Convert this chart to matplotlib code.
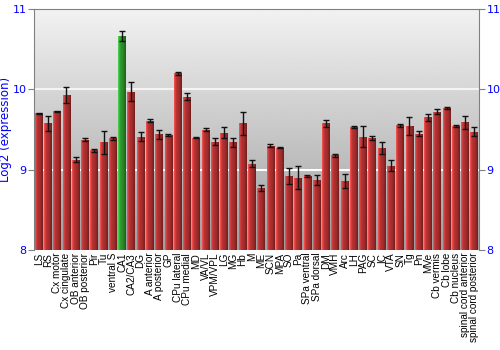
import numpy as np
import matplotlib.pyplot as plt
from matplotlib.colors import to_rgb

# Data
regions = ['LS', 'RS', 'Cx motor', 'Cx cingulate', 'OB anterior', 'OB posterior', 'Pir', 'Tu',
           'ventral S', 'CA1', 'CA2/CA3', 'DG', 'A anterior', 'A posterior', 'GP', 'CPu lateral',
           'CPu medial', 'MD', 'VA/VL', 'VPM/VPL', 'LG', 'MG', 'Hb', 'M', 'ME', 'SCN', 'MPA', 'SO',
           'Pa', 'SPa ventral', 'SPa dorsal', 'DM', 'VMH', 'Arc', 'LH', 'PAG', 'SC', 'IC', 'VTA',
           'SN', 'Tg', 'Pn', 'MVe', 'Cb vermis', 'Cb lobe', 'Cb nucleus', 'spinal cord anterior',
           'spinal cord posterior']
expr = [9.70, 9.575, 9.725, 9.925, 9.125, 9.375, 9.24, 9.34, 9.39, 10.66, 9.97, 9.41, 9.61, 9.44,
        9.43, 10.20, 9.91, 9.40, 9.50, 9.35, 9.46, 9.34, 9.575, 9.075, 8.77, 9.30, 9.275, 8.92,
        8.90, 8.92, 8.875, 9.575, 9.18, 8.86, 9.53, 9.41, 9.40, 9.27, 9.05, 9.55, 9.54, 9.45,
        9.65, 9.72, 9.77, 9.545, 9.59, 9.475]
err = [0.01, 0.09, 0.01, 0.10, 0.035, 0.02, 0.02, 0.14, 0.015, 0.06, 0.12, 0.055, 0.02, 0.06,
       0.01, 0.02, 0.04, 0.01, 0.02, 0.04, 0.07, 0.06, 0.14, 0.04, 0.04, 0.02, 0.01, 0.095,
       0.14, 0.01, 0.06, 0.04, 0.02, 0.09, 0.01, 0.13, 0.025, 0.075, 0.065, 0.015, 0.11, 0.035,
       0.045, 0.03, 0.01, 0.015, 0.08, 0.05]
highlight = 'CA1'

blue = '#0000ff'
spine_col = '#808080'

plt.rcParams['font.family'] = 'DejaVu Sans'

fig = plt.figure(figsize=(5, 3.5), dpi=100)
ax = fig.add_axes([0.068, 0.2857, 0.89, 0.6886])

x = np.arange(len(regions))
xmin, xmax = -0.5, len(regions) - 0.5
ymin, ymax = 8, 11

# background gradient
grad = np.linspace(0.62, 0.95, 256).reshape(-1, 1)
ax.imshow(grad, extent=[xmin, xmax, ymin, ymax], aspect='auto', cmap='gray',
          vmin=0, vmax=1, origin='lower', zorder=0)

for yv, a in [(9, 1.0), (10, 0.75)]:
    ax.axhline(yv, color='white', lw=1.5, alpha=a, zorder=1)


def shade(base):
    r, g, b = to_rgb(base)
    t = np.linspace(0, 1, 40)
    f = np.interp(t, [0, 0.08, 0.3, 0.7, 1], [1.25, 1.15, 1.0, 0.85, 0.6])
    arr = np.clip(np.stack([r * f + (f - 1).clip(0) * 0.4, g * f + (f - 1).clip(0) * 0.4,
                            b * f + (f - 1).clip(0) * 0.4], axis=-1), 0, 1)
    return arr.reshape(1, -1, 3)


red_img = shade('#b83232')
green_img = shade('#2f9a2f')
w = 0.84
bars = ax.bar(x, np.array(expr) - ymin, bottom=ymin, width=w, color='#b83232', zorder=2)
for xi, v, name, bar in zip(x, expr, regions, bars):
    img = green_img if name == highlight else red_img
    im = ax.imshow(img, extent=[xi - w / 2, xi + w / 2, ymin, v], aspect='auto', zorder=3)
    im.set_clip_path(bar)

ax.errorbar(x, expr, yerr=err, fmt='none', ecolor='#111111', elinewidth=1,
            capsize=2.2, capthick=1, zorder=4)

ax.set_xlim(xmin, xmax)
ax.set_ylim(ymin, ymax)
ax.set_xticks(x)
ax.set_xticklabels(regions, rotation=90, fontsize=7.2, family='Liberation Sans')
ax.tick_params(axis='x', length=0, pad=2)
ax.set_yticks([8, 9, 10, 11])
ax.tick_params(axis='y', colors=spine_col, labelcolor=blue, labelsize=8, length=4,
               direction='out', right=True, labelright=True, pad=1.5)
ax.set_ylabel('Log2 (expression)', color=blue, fontsize=8.5)
ax.yaxis.set_label_coords(-0.049, 0.5)
for s in ['left', 'right', 'top']:
    ax.spines[s].set_color(spine_col)
ax.spines['bottom'].set_visible(False)

fig.savefig('out.png', dpi=100)
